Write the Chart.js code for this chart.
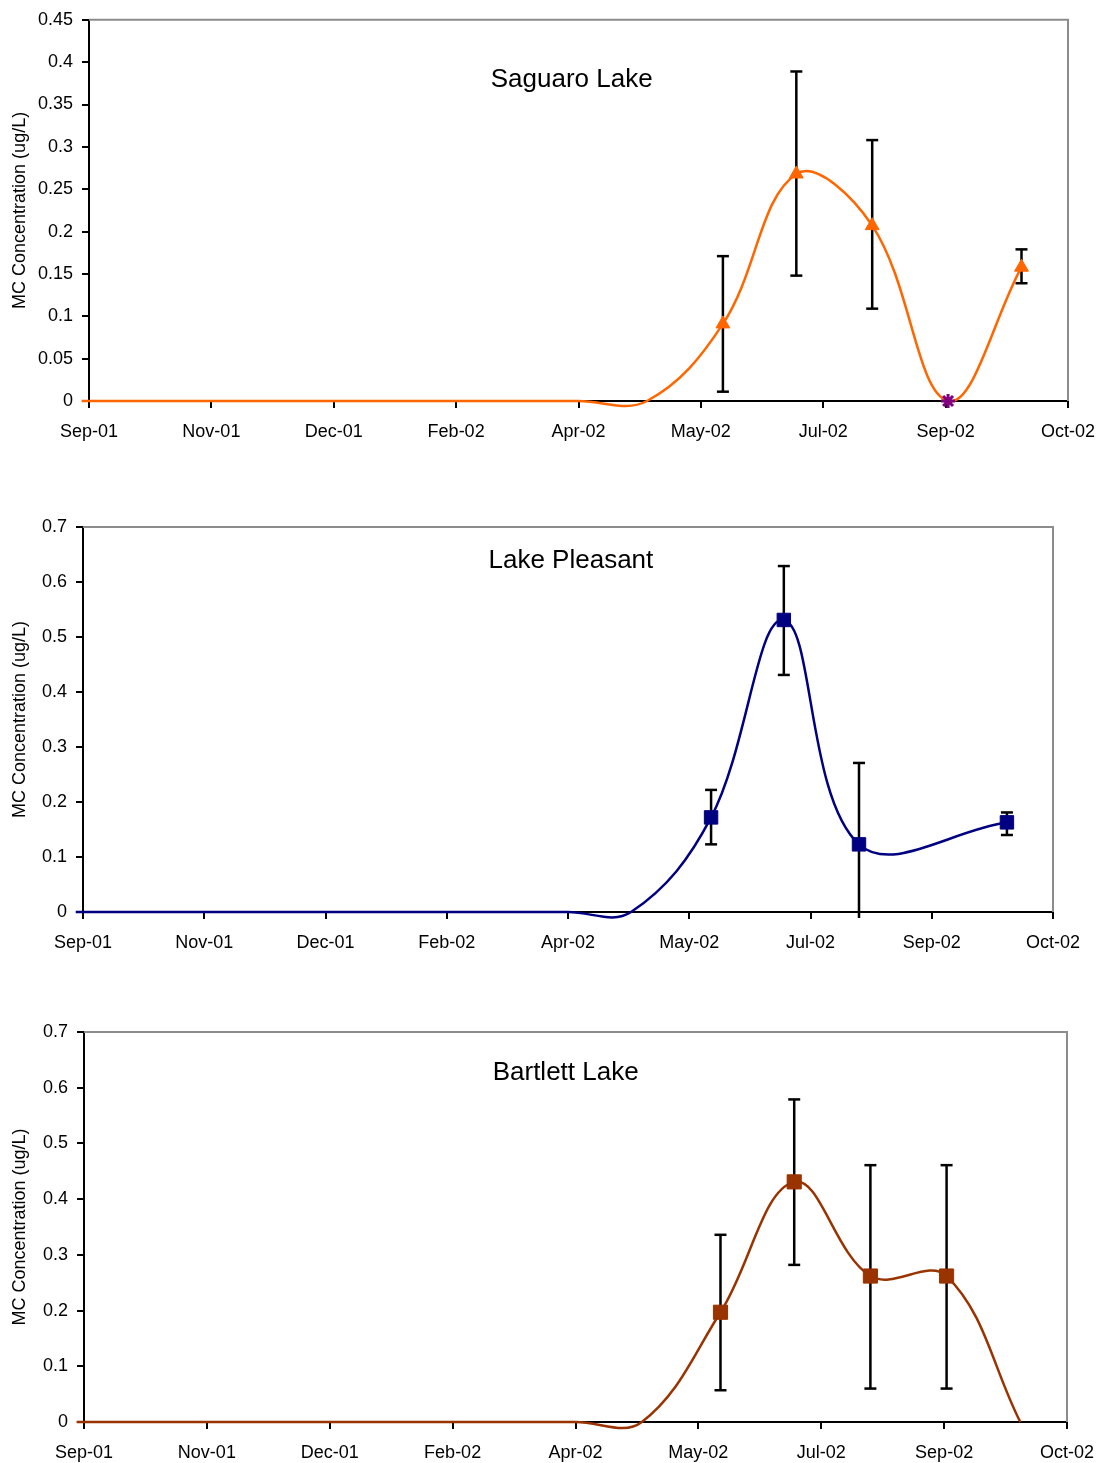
<!DOCTYPE html>
<html>
<head>
<meta charset="utf-8">
<title>MC Concentration</title>
<script src="https://cdn.jsdelivr.net/npm/chart.js@4.4.1/dist/chart.umd.min.js"></script>
<style>
  body { margin: 0; background: #fff; }
  .panel { position: absolute; left: 0; }
</style>
</head>
<body>
<div class="panel" style="top:0"><canvas id="saguaroChart" width="1099" height="465"></canvas></div>
<div class="panel" style="top:470px"><canvas id="pleasantChart" width="1099" height="500"></canvas></div>
<div class="panel" style="top:975px"><canvas id="bartlettChart" width="1099" height="488"></canvas></div>
<script>
// x values are days after the start of the date axis (one tick = 50 days)
const xTickLabels = ["Sep-01", "Nov-01", "Dec-01", "Feb-02", "Apr-02", "May-02", "Jul-02", "Sep-02", "Oct-02"];
const yAxisTitle = "MC Concentration (ug/L)";

const saguaroDays = [-3, 200, 228, 259, 289, 320, 351, 381];
const saguaroValues = [0, 0, 0, 0.091, 0.268, 0.207, 0, 0.158];
const saguaroLow = [null, null, null, 0.011, 0.148, 0.109, null, 0.139];
const saguaroHigh = [null, null, null, 0.171, 0.389, 0.308, null, 0.179];
const saguaroNonDetectDays = [351];

const pleasantDays = [-3, 200, 226, 259, 289, 320, 381];
const pleasantValues = [0, 0, 0, 0.172, 0.531, 0.123, 0.163];
const pleasantLow = [null, null, null, 0.123, 0.431, -0.03, 0.14];
const pleasantHigh = [null, null, null, 0.222, 0.629, 0.271, 0.181];

const bartlettDays = [-3, 200, 227, 259, 289, 320, 351, 381];
const bartlettValues = [0, 0, 0, 0.197, 0.431, 0.262, 0.262, 0];
const bartlettLow = [null, null, null, 0.057, 0.282, 0.06, 0.06, null];
const bartlettHigh = [null, null, null, 0.336, 0.579, 0.461, 0.461, null];

Chart.defaults.font.family = "'Liberation Sans', Arial, sans-serif";
Chart.defaults.font.size = 18;
Chart.defaults.color = "#000";

// grey frame on the top and right of the plot area, like the Excel plot border
const plotFrame = {
  id: "plotFrame",
  beforeDatasetsDraw(chart) {
    const { ctx, chartArea: a } = chart;
    ctx.save();
    ctx.strokeStyle = "#8c8c8c";
    ctx.lineWidth = 2;
    ctx.beginPath();
    ctx.moveTo(a.left, a.top);
    ctx.lineTo(a.right, a.top);
    ctx.lineTo(a.right, a.bottom);
    ctx.stroke();
    ctx.restore();
  },
};

// lake name sits inside the plot area
const lakeTitle = {
  id: "lakeTitle",
  afterDraw(chart, args, opts) {
    const { ctx, chartArea: a } = chart;
    ctx.save();
    ctx.font = "26px 'Liberation Sans', Arial, sans-serif";
    ctx.fillStyle = "#000";
    ctx.textAlign = "center";
    ctx.textBaseline = "middle";
    ctx.fillText(opts.text, a.left + a.width * opts.at, a.top + opts.dy);
    ctx.restore();
  },
};

const axisGrid = {
  drawOnChartArea: false,
  drawTicks: true,
  tickLength: 7,
  color: "#000",
  lineWidth: 2,
};

const renderLakeChart = (id, cfg) => {
  const ctx = document.getElementById(id)?.getContext("2d");
  if (!ctx) return;

  const linePoints = cfg.days.map((d, i) => ({ x: d, y: cfg.values[i] }));
  const barPoints = [];
  cfg.days.forEach((d, i) => {
    if (cfg.low[i] === null) return;
    barPoints.push({ x: d, y: cfg.low[i] }, { x: d, y: cfg.high[i] }, { x: d, y: null });
  });

  const isNonDetect = (i) => (cfg.nonDetect || []).includes(cfg.days[i]);
  const hasMarker = (i) => cfg.low[i] !== null;

  new Chart(ctx, {
    type: "line",
    data: {
      datasets: [
        {
          data: linePoints,
          borderColor: cfg.color,
          borderWidth: 2.5,
          tension: 0.38,
          clip: false,
          pointStyle: (c) => (isNonDetect(c.dataIndex) ? "star" : cfg.marker),
          pointRadius: (c) =>
            isNonDetect(c.dataIndex) ? 7 : hasMarker(c.dataIndex) ? cfg.markerSize : 0,
          pointBackgroundColor: (c) => (isNonDetect(c.dataIndex) ? "#800080" : cfg.color),
          pointBorderColor: (c) => (isNonDetect(c.dataIndex) ? "#800080" : cfg.color),
          pointBorderWidth: (c) => (isNonDetect(c.dataIndex) ? 3 : 1),
        },
        {
          data: barPoints,
          borderColor: "#000",
          borderWidth: 2.5,
          tension: 0,
          clip: { left: 20, top: 20, right: 20, bottom: 6 },
          pointStyle: "line",
          pointRadius: 6,
          pointBorderColor: "#000",
          pointBorderWidth: 2.5,
        },
      ],
    },
    options: {
      responsive: false,
      animation: false,
      events: [],
      layout: { padding: { top: cfg.top, right: 1099 - cfg.right, left: 0, bottom: 0 } },
      elements: { line: { capBezierPoints: false } },
      plugins: {
        legend: { display: false },
        tooltip: { enabled: false },
        lakeTitle: cfg.title,
      },
      scales: {
        x: {
          type: "linear",
          min: 0,
          max: 400,
          grid: axisGrid,
          border: { color: "#000", width: 2 },
          ticks: {
            stepSize: 50,
            autoSkip: false,
            maxRotation: 0,
            padding: 13,
            callback: (v) => xTickLabels[Math.round(v / 50)],
          },
          afterFit: (s) => {
            s.height = cfg.xAxisHeight;
            s.paddingLeft = 0;
            s.paddingRight = 0;
          },
        },
        y: {
          min: 0,
          max: cfg.yMax,
          grid: axisGrid,
          border: { color: "#000", width: 2 },
          ticks: {
            stepSize: cfg.yStep,
            padding: 9,
            callback: (v) => String(Number(v.toFixed(2))),
          },
          title: { display: true, text: yAxisTitle, padding: { top: 9, bottom: 0 } },
          afterFit: (s) => {
            s.width = cfg.left;
          },
        },
      },
    },
    plugins: [plotFrame, lakeTitle],
  });
};

renderLakeChart("saguaroChart", {
  days: saguaroDays,
  values: saguaroValues,
  low: saguaroLow,
  high: saguaroHigh,
  nonDetect: saguaroNonDetectDays,
  color: "#ff6600",
  marker: "triangle",
  markerSize: 8,
  yMax: 0.45,
  yStep: 0.05,
  top: 19,
  left: 89,
  right: 1068,
  xAxisHeight: 64,
  title: { text: "Saguaro Lake", at: 0.493, dy: 60 },
});

renderLakeChart("pleasantChart", {
  days: pleasantDays,
  values: pleasantValues,
  low: pleasantLow,
  high: pleasantHigh,
  color: "#000080",
  marker: "rect",
  markerSize: 9.5,
  yMax: 0.7,
  yStep: 0.1,
  top: 57,
  left: 83,
  right: 1053,
  xAxisHeight: 58,
  title: { text: "Lake Pleasant", at: 0.503, dy: 34 },
});

renderLakeChart("bartlettChart", {
  days: bartlettDays,
  values: bartlettValues,
  low: bartlettLow,
  high: bartlettHigh,
  color: "#993300",
  marker: "rect",
  markerSize: 10,
  yMax: 0.7,
  yStep: 0.1,
  top: 57,
  left: 84,
  right: 1067,
  xAxisHeight: 41,
  title: { text: "Bartlett Lake", at: 0.49, dy: 41 },
});
</script>
</body>
</html>
